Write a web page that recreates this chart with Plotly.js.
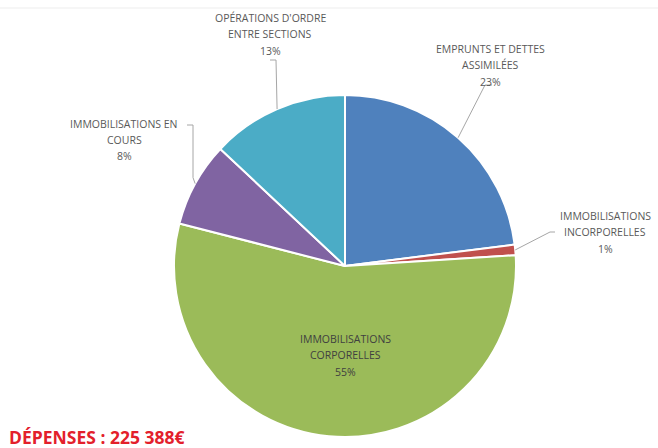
<!DOCTYPE html>
<html><head><meta charset="utf-8">
<script src="https://cdn.plot.ly/plotly-3.0.1.min.js"></script>
<style>html,body{margin:0;padding:0;background:#fff}#chart{width:658px;height:448px}</style>
</head><body><div id="chart"></div>
<script>
const categories = ["EMPRUNTS ET DETTES<br>ASSIMILÉES", "IMMOBILISATIONS<br>INCORPORELLES", "IMMOBILISATIONS<br>CORPORELLES", "IMMOBILISATIONS EN<br>COURS", "OPÉRATIONS D'ORDRE<br>ENTRE SECTIONS"];
const values = [23, 1, 55, 8, 13];
const colors = ["#4F81BD", "#C0504D", "#9BBB59", "#8064A2", "#4BACC6"];
const chartTitle = "DÉPENSES : 225 388€";

const W = 658, H = 448;
const cx = 345, cy = 266, R = 171;
const dom = {x: [(cx - R) / W, (cx + R) / W], y: [(H - cy - R) / H, (H - cy + R) / H]};

const total = values.reduce((a, b) => a + b, 0);
const pct = values.map(v => Math.round(v / total * 100) + "%");
let cum = 0;
const mids = values.map(v => { const m = (cum + v / 2) / total * 2 * Math.PI; cum += v; return m; });
const pt = (i, f) => [cx + f * R * Math.sin(mids[i]), cy - f * R * Math.cos(mids[i])];
const px = x => x / W, py = y => (H - y) / H;

const labelPos = [[490, 65], [605, 232], [345, 355], [124, 140], [270, 34]];
const inside = [false, false, true, false, false];
const lineGap = 16.5;

const annotations = [];
categories.forEach((c, i) => {
  const lines = (c + "<br>" + pct[i]).split("<br>");
  lines.forEach((t, k) => {
    annotations.push({
      text: t, x: px(labelPos[i][0]), y: py(labelPos[i][1] + (k - (lines.length - 1) / 2) * lineGap),
      xref: "paper", yref: "paper", xanchor: "center", yanchor: "middle", showarrow: false,
      font: {family: "Open Sans, Liberation Sans, sans-serif", size: 10.5, color: inside[i] ? "#404040" : "#595959"}
    });
  });
});
annotations.push({
  text: "<b>" + chartTitle + "</b>", x: px(7), y: py(437), xref: "paper", yref: "paper",
  xanchor: "left", yanchor: "middle", showarrow: false,
  font: {family: "Open Sans, Liberation Sans, sans-serif", size: 17.5, color: "#E3202B"}
});

const lineStyle = {color: "#A6A6A6", width: 1};
const shapes = [{type: "line", xref: "paper", yref: "paper", x0: 0, x1: 1, y0: py(8), y1: py(8), line: {color: "#EDEDED", width: 1}}];
function path(points) {
  shapes.push({type: "path", xref: "paper", yref: "paper", line: lineStyle,
    path: points.map((p, k) => (k ? "L" : "M") + px(p[0]) + "," + py(p[1])).join(" ")});
}
let e;
e = pt(0, 1); path([[492, 85], [485, 85], e]);
e = pt(1, 1); path([[555, 232], [550, 232], e]);
e = pt(3, 1); path([[187, 125], [193, 125], [193, e[1] - 6], e]);
e = pt(4, 1); path([[270, 60], [276, 60], e]);

Plotly.newPlot("chart", [{
  type: "pie", values: values, labels: categories, sort: false, direction: "clockwise", rotation: 0,
  marker: {colors: colors, line: {color: "#FFFFFF", width: 2}},
  textinfo: "none", hoverinfo: "none", domain: dom, showlegend: false
}], {
  width: W, height: H, margin: {l: 0, r: 0, t: 0, b: 0},
  paper_bgcolor: "#FFFFFF", annotations: annotations, shapes: shapes, showlegend: false
}, {staticPlot: true});
</script></body></html>
